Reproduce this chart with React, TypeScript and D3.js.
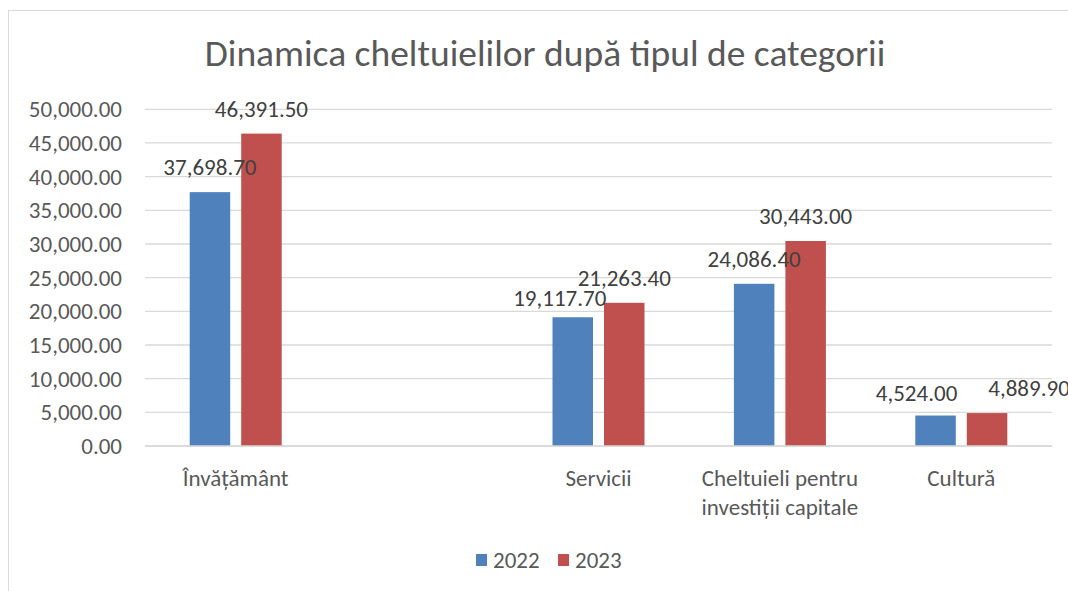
import React from "react";
import * as d3 from "d3";

const categories = ["Învățământ", "", "Servicii", "Cheltuieli pentru investiții capitale", "Cultură"];
const years = ["2022", "2023"];
const values2022: (number | null)[] = [37698.7, null, 19117.7, 24086.4, 4524.0];
const values2023: (number | null)[] = [46391.5, null, 21263.4, 30443.0, 4889.9];
const yTicks = [0, 5000, 10000, 15000, 20000, 25000, 30000, 35000, 40000, 45000, 50000];
const title = "Dinamica cheltuielilor după tipul de categorii";

// manual label nudges (dx, dy) as positioned in the original
const nudge2022 = [[0, 0], [0, 0], [-13, 6], [0, 0], [-19, 2]];
const nudge2023 = [[0, 0], [0, 0], [0, 0], [0, 0], [42, 0]];

const colors: Record<string, string> = { "2022": "#4f81bd", "2023": "#c0504d" };
const FONT = "Carlito, Lato, 'Open Sans', sans-serif";
const FS = 23;

function wrap(s: string, max: number): string[] {
  const words = s.split(" ");
  const lines: string[] = [];
  let cur = "";
  for (const w of words) {
    const t = cur ? cur + " " + w : w;
    if (t.length > max && cur) {
      lines.push(cur);
      cur = w;
    } else cur = t;
  }
  if (cur) lines.push(cur);
  return lines;
}

export default function App() {
  const W = 1068, H = 591;
  const left = 145, right = 1052, top = 109.3, bottom = 446;
  const x0 = d3.scaleBand<string>().domain(categories).range([left, right]).padding(0);
  const x1 = d3.scaleBand<string>().domain(years).range([0, x0.bandwidth()]).paddingInner(0.2136).paddingOuter(0.868);
  const y = d3.scaleLinear().domain([0, 50000]).range([bottom, top]);
  const fmt = d3.format(",.2f");
  const series = [
    { year: "2022", vals: values2022, nudge: nudge2022 },
    { year: "2023", vals: values2023, nudge: nudge2023 },
  ];

  return (
    <svg width={W} height={H} style={{ position: "absolute", left: 0, top: 0, background: "#fff" }} fontFamily={FONT}>
      <rect x={8.5} y={10.5} width={W + 20} height={H + 20} fill="#fff" stroke="#d9d9d9" strokeWidth={1} />
      <text x={545} y={66} textAnchor="middle" fontSize={37.5} fill="#595959">{title}</text>
      {yTicks.map((t) => (
        <g key={t}>
          <line x1={left} x2={right} y1={y(t)} y2={y(t)} stroke="#d9d9d9" strokeWidth={t === 0 ? 1.5 : 1.3} />
          <text x={122} y={y(t) + 8} textAnchor="end" fontSize={FS} fill="#595959">{fmt(t)}</text>
        </g>
      ))}
      {series.map((s) =>
        categories.map((c, i) => {
          const v = s.vals[i];
          if (v == null) return null;
          const bx = (x0(c) ?? 0) + (x1(s.year) ?? 0);
          const bw = x1.bandwidth();
          return (
            <g key={s.year + i}>
              <rect x={bx} y={y(v)} width={bw} height={bottom - y(v)} fill={colors[s.year]} />
            </g>
          );
        })
      )}
      <line x1={left} x2={right} y1={bottom} y2={bottom} stroke="#d9d9d9" strokeWidth={1.5} />
      {series.map((s) =>
        categories.map((c, i) => {
          const v = s.vals[i];
          if (v == null) return null;
          const cx = (x0(c) ?? 0) + (x1(s.year) ?? 0) + x1.bandwidth() / 2;
          return (
            <text key={"l" + s.year + i} x={cx + s.nudge[i][0]} y={y(v) - 17 + s.nudge[i][1]} textAnchor="middle" fontSize={FS} fill="#404040">
              {fmt(v)}
            </text>
          );
        })
      )}
      {categories.map((c) => {
        const lines = wrap(c, 19);
        const cx = (x0(c) ?? 0) + x0.bandwidth() / 2;
        return (
          <text key={"c" + c} x={cx} textAnchor="middle" fontSize={FS} fill="#595959">
            {lines.map((ln, k) => (
              <tspan key={k} x={cx} y={486 + k * 29}>{ln}</tspan>
            ))}
          </text>
        );
      })}
      {years.map((yr, k) => {
        const lx = [476, 558][k];
        return (
          <g key={yr}>
            <rect x={lx} y={554} width={11} height={12} fill={colors[yr]} />
            <text x={lx + 17} y={568} fontSize={FS} fill="#595959">{yr}</text>
          </g>
        );
      })}
    </svg>
  );
}
